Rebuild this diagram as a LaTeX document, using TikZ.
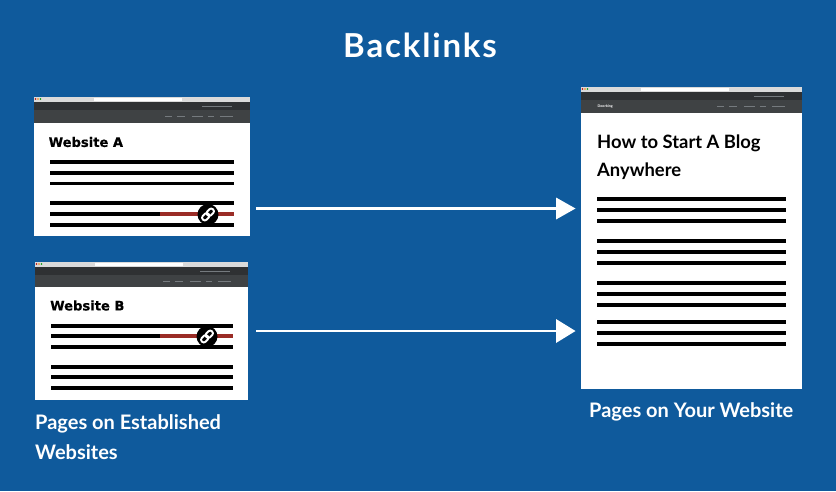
\documentclass[tikz,border=0pt]{standalone}
\usepackage{fontspec}
\setmainfont{Lato}
\newfontfamily\dv[BoldFeatures={FakeBold=0.6}]{DejaVu Sans}
\usetikzlibrary{calc}
\definecolor{bg}{HTML}{0F5A9C}
\definecolor{chrome}{HTML}{DADADA}
\definecolor{darka}{HTML}{2F3133}
\definecolor{darkb}{HTML}{3F4244}
\definecolor{linkred}{HTML}{9A2C26}
\definecolor{navtxt}{HTML}{757A7E}
\tikzset{
  x=1pt,y=-1pt,
  textline/.style={line width=3.8pt,black},
  redline/.style={line width=3.8pt,linkred},
  linkbadge/.style={circle,fill=black,draw=none,minimum size=21pt,inner sep=0pt},
  flow/.style={draw=white,line width=2.8pt},
  flowhead/.style={fill=white,draw=none},
  title/.style={text=white,font=\fontsize{33}{36}\selectfont\bfseries,anchor=center},
  caption/.style={text=white,font=\fontsize{20}{30}\selectfont\bfseries,anchor=north west,align=left,inner sep=0pt},
  sitehead/.style={text=black,font=\dv\fontsize{13.1}{16}\selectfont\bfseries,anchor=west,inner sep=0pt},
  bloghead/.style={text=black,font=\fontsize{18.4}{27.5}\selectfont\bfseries,anchor=north west,align=left,inner sep=0pt},
  navbit/.style={navtxt,line width=.6pt},
}
\newcommand{\browser}[5]{% x0,y0,x1,y-chrome-bottom,y-bottom
  \fill[white] (#1,#2) rectangle (#3,#5);
  \fill[chrome] (#1,#2) rectangle (#3,#2+5);
  \fill[white] (#1+60,#2+1) rectangle (#1+148,#2+4);
  \fill[red!70!black] (#1+1.5,#2+2) circle (.8);
  \fill[orange] (#1+4,#2+2) circle (.8);
  \fill[green!60!black] (#1+6.5,#2+2) circle (.8);
  \fill[darka] (#1,#2+5) rectangle (#3,#2+13);
  \fill[darkb] (#1,#2+13) rectangle (#3,#4);
  \draw[navbit] (#3-48,#2+9) -- (#3-18,#2+9);
  \foreach \a/\b in {85/78,73/65,58/47,42/36,30/17}
    \draw[navbit] (#3-\a,#2+19) -- (#3-\b,#2+19);
}
\newcommand{\linkicon}[1]{%
  \begin{scope}[shift={(#1)},rotate=45]
    \draw[white,line width=1.9pt,rounded corners=2.5pt] (-0.8,-2.7) rectangle (7.2,2.7);
    \draw[white,line width=1.9pt,rounded corners=2.5pt] (-7.2,-2.7) rectangle (0.8,2.7);
  \end{scope}
}
\begin{document}
\begin{tikzpicture}
\useasboundingbox (0,0) rectangle (836,491);
\fill[bg] (0,0) rectangle (836,491);

\node[title] (ttl) at (420,45) {B\kern1.8pt a\kern1.8pt c\kern1.8pt k\kern1.8pt l\kern1.8pt i\kern1.8pt n\kern1.8pt k\kern1.8pt s};

% Website A
\browser{34}{97}{250}{123}{236}
\node[sitehead] (siteA) at (48.5,142) {Website A};
\foreach \y in {161.7,172.7,183.5,203.3,214,224.7}
  \draw[textline] (50,\y) -- (234,\y);
\draw[redline] (160,214) -- (234,214);
\node[linkbadge] (badgeA) at (208,214.5) {};
\linkicon{badgeA}

% Website B
\browser{35}{262}{248}{287}{400}
\node[sitehead] (siteB) at (50,305.5) {Website B};
\foreach \y in {325.7,336.3,347,366.7,377.3,387.7}
  \draw[textline] (51,\y) -- (232.5,\y);
\draw[redline] (160,336.3) -- (232.5,336.3);
\node[linkbadge] (badgeB) at (207,336.5) {};
\linkicon{badgeB}

% Your page
\browser{581}{87}{802}{113}{389}
\node[text=white,font=\fontsize{3.6}{5}\selectfont\bfseries,anchor=west,inner sep=0pt] (brand) at (597.5,106.5) {Doorbing};
\node[bloghead] (blog) at (597,135) {How to Start A Blog\\Anywhere};
\foreach \y in {199,210,221,241,252,263,283,294,305,322,333,344}
  \draw[textline] (597,\y) -- (786,\y);

% Arrows
\coordinate (a1s) at (256,208.5); \coordinate (a1e) at (557,208.5); \coordinate (a1t) at (575.5,208.5);
\coordinate (a2s) at (256,331);   \coordinate (a2e) at (557,331);   \coordinate (a2t) at (575.5,331);
\draw[flow] (a1s) -- (a1e);
\fill[flowhead] ($(a1e)+(-1,-11)$) -- (a1t) -- ($(a1e)+(-1,11)$) -- cycle;
\draw[flow] (a2s) -- (a2e);
\fill[flowhead] ($(a2e)+(-1,-12)$) -- (a2t) -- ($(a2e)+(-1,12)$) -- cycle;

% Captions
\node[caption] (capL) at (35,414) {Pages on Established\\Websites};
\node[caption] (capR) at (589,402) {Pages on Your Website};
\end{tikzpicture}
\end{document}
